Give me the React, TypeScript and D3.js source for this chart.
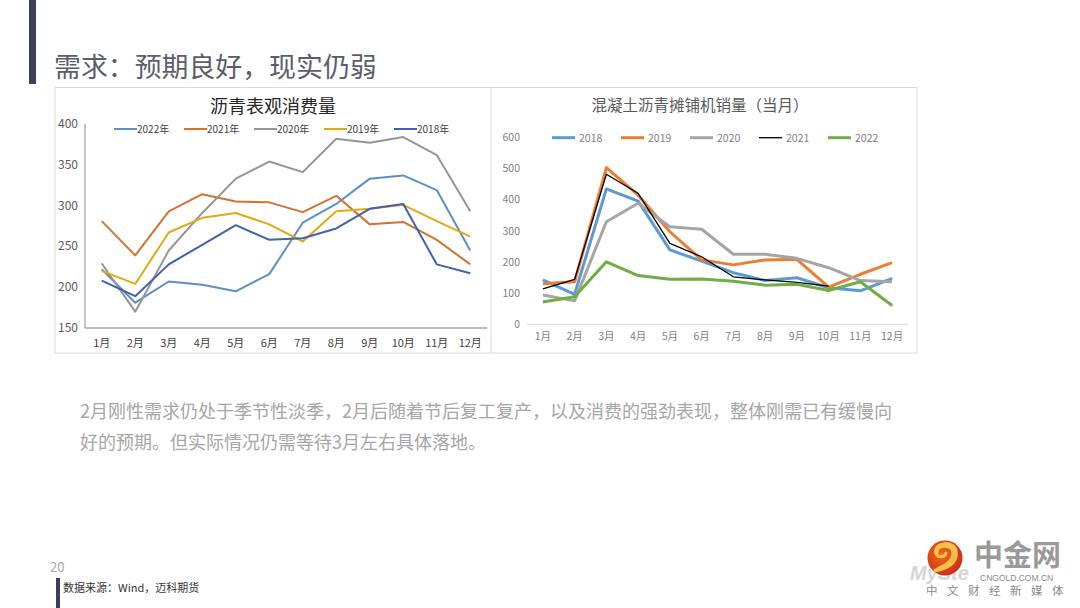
import React from "react";
import * as d3 from "d3";

const months = ["1月", "2月", "3月", "4月", "5月", "6月", "7月", "8月", "9月", "10月", "11月", "12月"];

// Left chart: 沥青表观消费量
const leftTicks = [150, 200, 250, 300, 350, 400];
const left2022 = [222, 181, 207, 203, 195, 216, 279, 302, 333, 337, 319, 245];
const left2021 = [281, 239, 293, 314, 305, 304, 292, 312, 277, 280, 258, 228];
const left2020 = [229, 170, 245, 291, 333, 354, 341, 382, 377, 384, 362, 293];
const left2019 = [220, 204, 267, 285, 291, 277, 256, 293, 296, 301, 281, 262];
const left2018 = [208, 189, 228, 252, 276, 258, 260, 272, 296, 302, 228, 217];

// Right chart: 混凝土沥青摊铺机销量（当月）
const rightTicks = [0, 100, 200, 300, 400, 500, 600];
const right2018 = [142, 96, 433, 394, 238, 202, 165, 140, 149, 117, 107, 147];
const right2019 = [130, 136, 501, 413, 296, 206, 190, 206, 208, 119, 160, 197];
const right2020 = [94, 75, 328, 387, 312, 304, 224, 224, 211, 181, 140, 136];
const right2021 = [113, 144, 480, 419, 259, 216, 152, 142, 134, 122];
const right2022 = [71, 88, 200, 156, 144, 145, 138, 125, 128, 108, 136, 60];

const leftSeries = [
  { name: "2022年", values: left2022, color: "#5a8fc8", width: 2 },
  { name: "2021年", values: left2021, color: "#d4722f", width: 2 },
  { name: "2020年", values: left2020, color: "#959595", width: 2 },
  { name: "2019年", values: left2019, color: "#e2a912", width: 2 },
  { name: "2018年", values: left2018, color: "#3f62ab", width: 2 },
];

const rightSeries = [
  { name: "2018", values: right2018, color: "#5b9bd5", width: 3 },
  { name: "2019", values: right2019, color: "#ed7d31", width: 3 },
  { name: "2020", values: right2020, color: "#a5a5a5", width: 3 },
  { name: "2021", values: right2021, color: "#000000", width: 1.3 },
  { name: "2022", values: right2022, color: "#70ad47", width: 3 },
];

const FONT = "'Noto Sans CJK SC', 'Noto Sans', sans-serif";

function LeftChart() {
  const x = d3.scaleBand<string>().domain(months).range([85, 487]);
  const y = d3.scaleLinear().domain([150, 400]).range([328, 124]);
  const line = d3
    .line<number>()
    .x((_, i) => (x(months[i]) as number) + x.bandwidth() / 2)
    .y((d) => y(d));
  return (
    <g>
      <text x={273} y={113} textAnchor="middle" fontSize={18} fill="#262626" fontFamily={FONT}>
        沥青表观消费量
      </text>
      {leftTicks.map((t) => (
        <text key={t} x={78} y={y(t) + 4} textAnchor="end" fontSize={12} fill="#595959" fontFamily={FONT}>
          {t}
        </text>
      ))}
      <line x1={85} x2={85} y1={124} y2={328} stroke="#a6a6a6" strokeWidth={1.3} />
      <line x1={85} x2={487} y1={328} y2={328} stroke="#a6a6a6" strokeWidth={1.3} />
      {months.map((m) => (
        <text
          key={m}
          x={(x(m) as number) + x.bandwidth() / 2}
          y={347}
          textAnchor="middle"
          fontSize={11}
          fill="#404040"
          fontFamily={FONT}
        >
          {m}
        </text>
      ))}
      {leftSeries.map((s, i) => {
        const lx = 114 + i * 70;
        return (
          <g key={s.name}>
            <line x1={lx} x2={lx + 23} y1={129} y2={129} stroke={s.color} strokeWidth={2} />
            <text x={lx + 23} y={133} fontSize={10} fill="#404040" fontFamily={FONT}>
              {s.name}
            </text>
          </g>
        );
      })}
      {leftSeries.map((s) => (
        <path
          key={s.name}
          d={line(s.values) || ""}
          fill="none"
          stroke={s.color}
          strokeWidth={s.width}
          strokeLinejoin="round"
        />
      ))}
    </g>
  );
}

function RightChart() {
  const x = d3.scaleBand<string>().domain(months).range([527, 908]);
  const y = d3.scaleLinear().domain([0, 600]).range([324.3, 136.7]);
  const line = d3
    .line<number>()
    .x((_, i) => (x(months[i]) as number) + x.bandwidth() / 2)
    .y((d) => y(d));
  return (
    <g>
      <text x={700} y={111} textAnchor="middle" fontSize={15.5} fill="#595959" fontFamily={FONT}>
        混凝土沥青摊铺机销量（当月）
      </text>
      {rightTicks.map((t) => (
        <text key={t} x={520} y={y(t) + 4} textAnchor="end" fontSize={10.5} fill="#7f7f7f" fontFamily={FONT}>
          {t}
        </text>
      ))}
      <line x1={527} x2={908} y1={324.3} y2={324.3} stroke="#d9d9d9" strokeWidth={1} />
      {months.map((m) => (
        <text
          key={m}
          x={(x(m) as number) + x.bandwidth() / 2}
          y={340}
          textAnchor="middle"
          fontSize={10.5}
          fill="#7f7f7f"
          fontFamily={FONT}
        >
          {m}
        </text>
      ))}
      {rightSeries.map((s, i) => {
        const lx = 552 + i * 69;
        return (
          <g key={s.name}>
            <line x1={lx} x2={lx + 23} y1={137.7} y2={137.7} stroke={s.color} strokeWidth={s.width} />
            <text x={lx + 27} y={141.5} fontSize={10.5} fill="#7f7f7f" fontFamily={FONT}>
              {s.name}
            </text>
          </g>
        );
      })}
      {rightSeries.map((s) => (
        <path
          key={s.name}
          d={line(s.values) || ""}
          fill="none"
          stroke={s.color}
          strokeWidth={s.width}
          strokeLinejoin="round"
        />
      ))}
    </g>
  );
}

function Logo() {
  return (
    <g>
      <defs>
        <radialGradient id="lg" cx="0.4" cy="0.4" r="0.7">
          <stop offset="0" stopColor="#f26a1b" />
          <stop offset="1" stopColor="#c9261b" />
        </radialGradient>
      </defs>
      <text x={910} y={580} fontSize={20} fontStyle="italic" fontWeight="bold" fill="#d6d6d6" fontFamily="'Liberation Sans', sans-serif">
        MySte
      </text>
      <circle cx={945} cy={558} r={17.5} fill="url(#lg)" />
      <path
        d="M937 552 C937 544, 953 544, 953 553 C953 562, 944 566, 934 571 C947 569, 958 563, 956 551 C954 540, 934 542, 936 553 C937 558, 945 558, 946 553"
        fill="none"
        stroke="#f7c24a"
        strokeWidth={3.2}
        strokeLinecap="round"
      />
      <text x={974} y={566} fontSize={29} fill="#9a9a9a" fontWeight="bold" fontFamily={FONT}>
        中金网
      </text>
      <text x={980} y={581} fontSize={8.5} fill="#8a8a8a" fontFamily="'Liberation Sans', sans-serif">
        CNGOLD.COM.CN
      </text>
      <text x={926} y={595} fontSize={11.5} fill="#8a8a8a" letterSpacing={9.5} fontFamily={FONT}>
        中文财经新媒体
      </text>
    </g>
  );
}

export default function App() {
  return (
    <div style={{ position: "fixed", left: 0, top: 0, width: 1080, height: 608, background: "#fff" }}>
      <svg width={1080} height={608} style={{ display: "block" }}>
        <rect x={0} y={0} width={1080} height={608} fill="#ffffff" />
        <rect x={29} y={0} width={7} height={84} fill="#3b3f5a" />
        <text x={54} y={77} fontSize={26.9} fill="#5a5d6a" fontFamily={FONT}>
          需求：预期良好，现实仍弱
        </text>
        <rect x={55} y={87.5} width={862} height={265.5} fill="none" stroke="#d9d9d9" strokeWidth={1} />
        <line x1={491} x2={491} y1={87.5} y2={353} stroke="#d9d9d9" strokeWidth={1} />
        <LeftChart />
        <RightChart />
        <text x={80} y={418} fontSize={18} fill="#a6a6a6" fontFamily={FONT}>
          2月刚性需求仍处于季节性淡季，2月后随着节后复工复产，以及消费的强劲表现，整体刚需已有缓慢向
        </text>
        <text x={80} y={449} fontSize={18} fill="#a6a6a6" fontFamily={FONT}>
          好的预期。但实际情况仍需等待3月左右具体落地。
        </text>
        <text x={50} y={572} fontSize={13} fill="#a6a6a6" fontFamily={FONT}>
          20
        </text>
        <rect x={56} y={578} width={4} height={30} fill="#3b3f5a" />
        <text x={63} y={592} fontSize={11} fill="#333333" fontFamily={FONT}>
          数据来源：Wind，迈科期货
        </text>
        <Logo />
      </svg>
    </div>
  );
}
